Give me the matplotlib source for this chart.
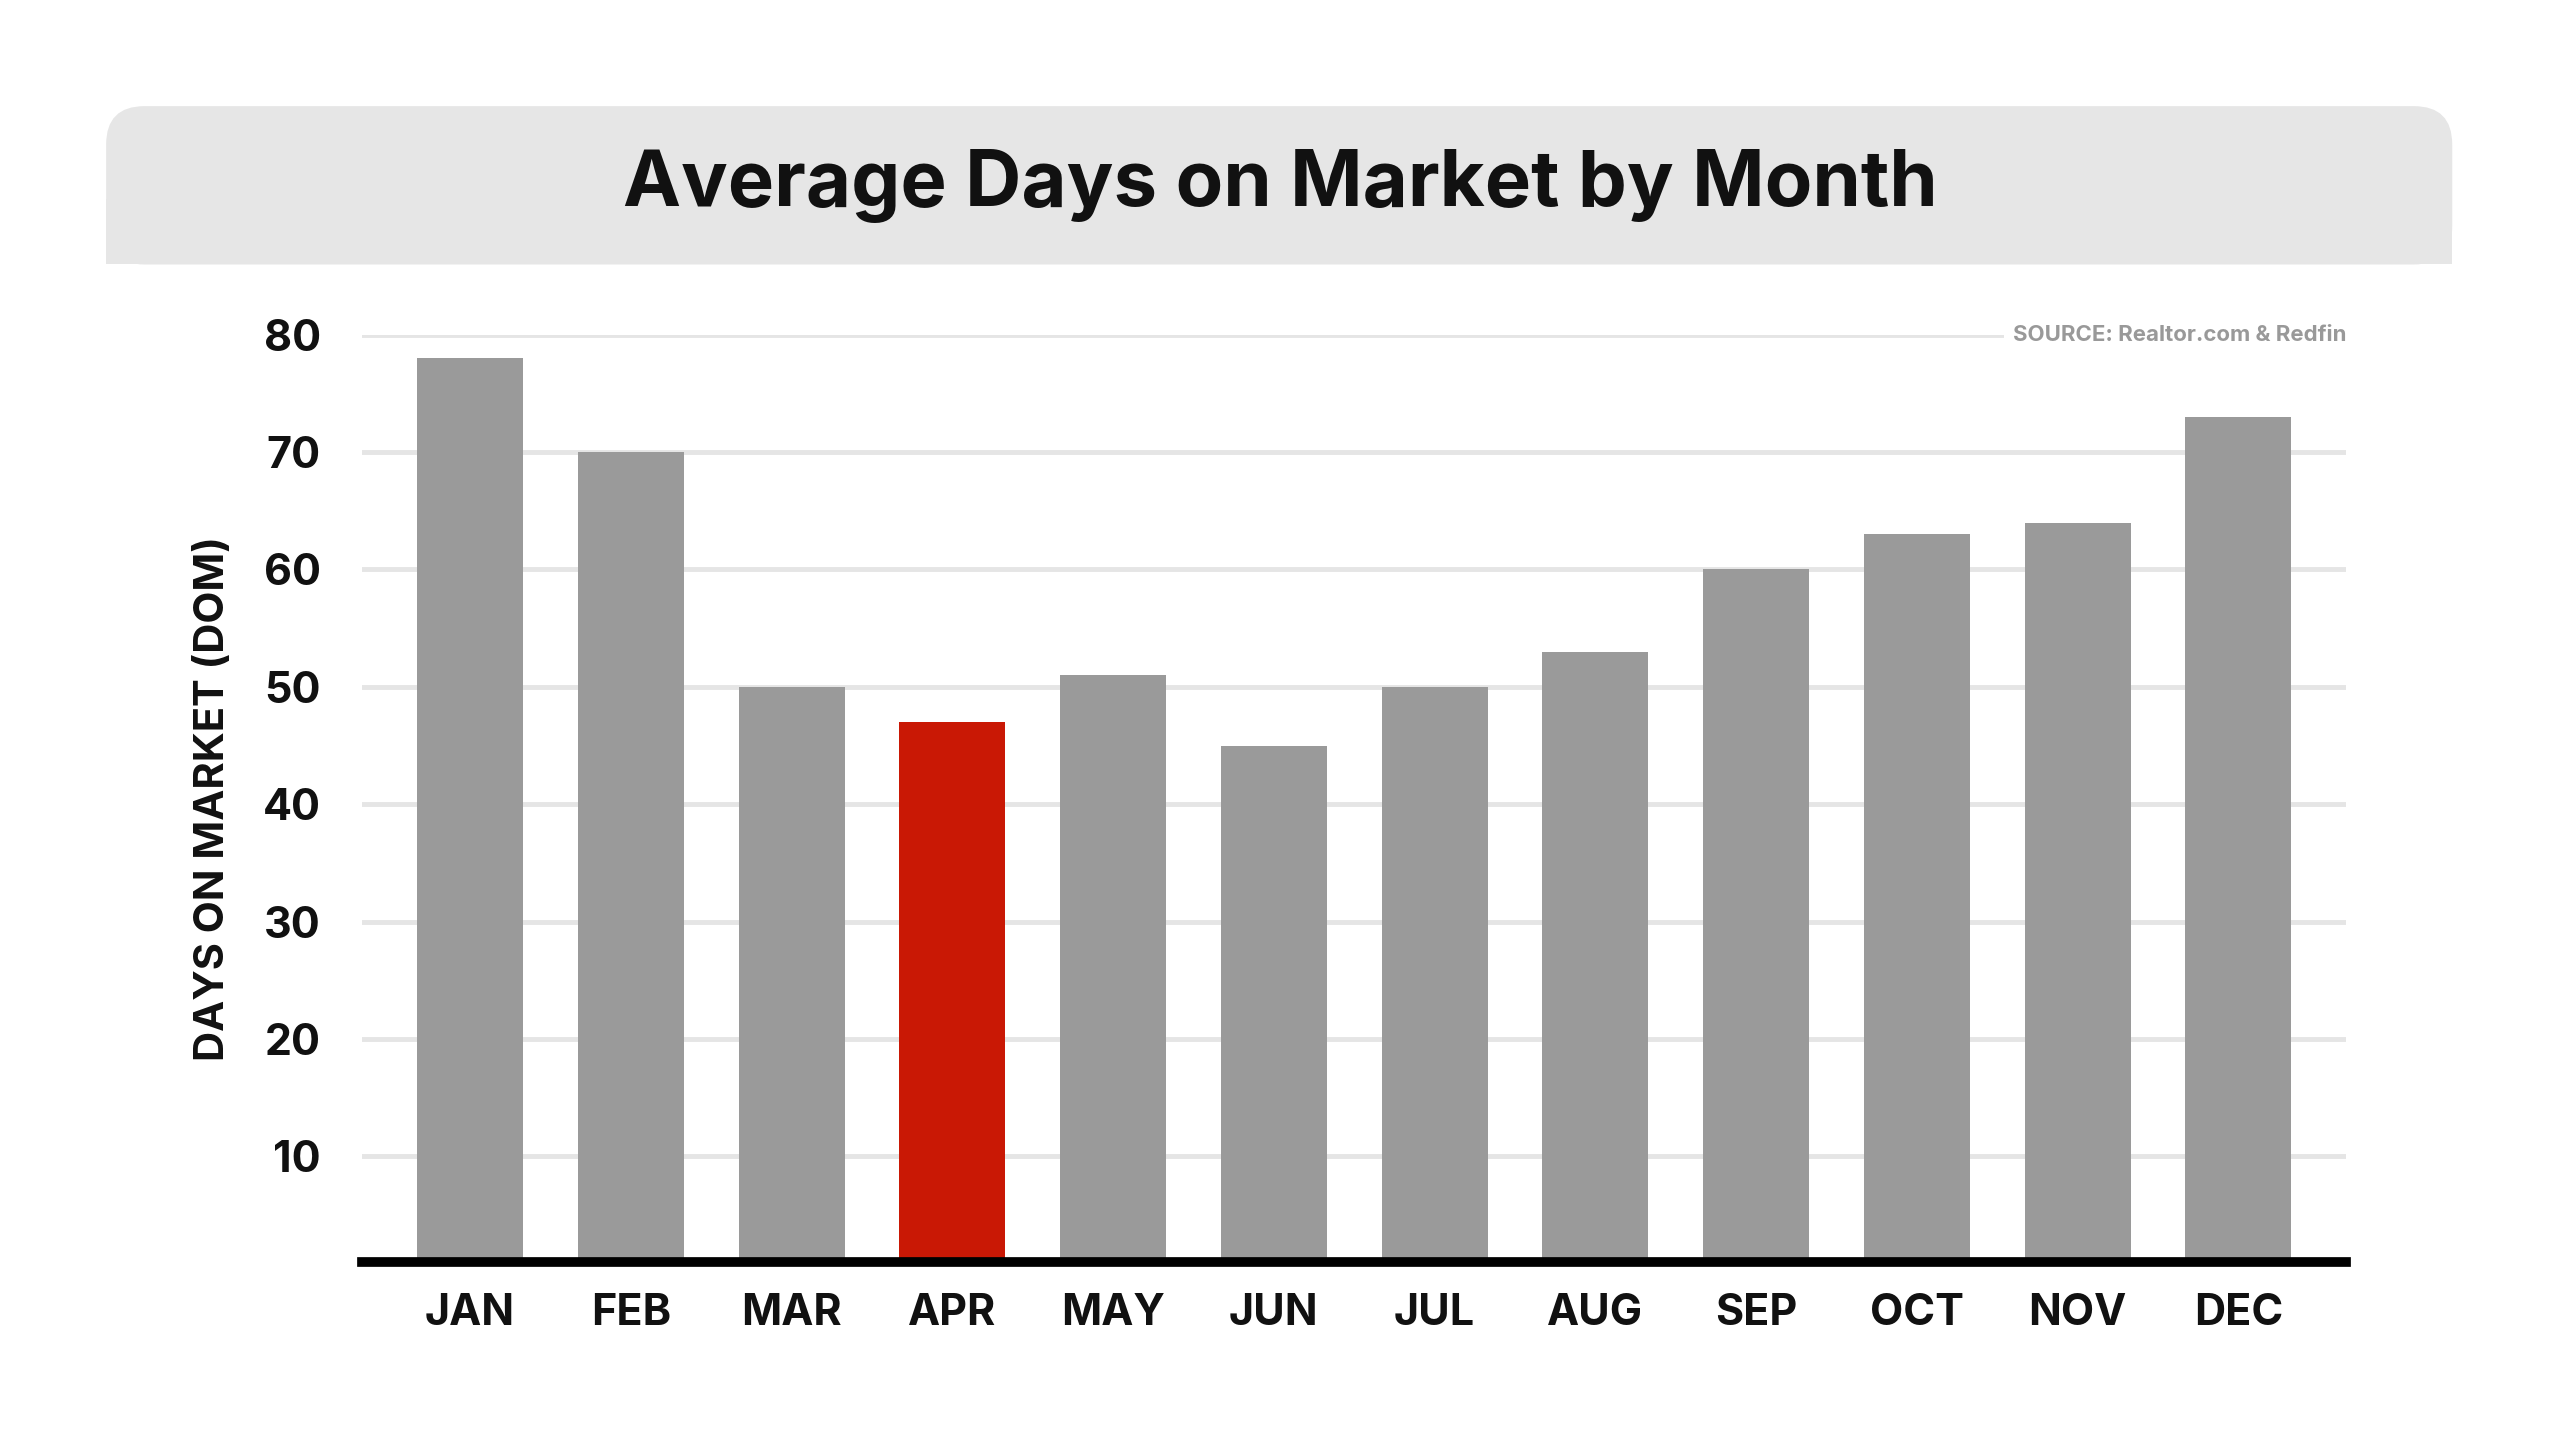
import matplotlib.pyplot as plt
from matplotlib.patches import FancyBboxPatch, Rectangle

plt.rcParams['font.family'] = ['Inter', 'DejaVu Sans']

months = ["JAN", "FEB", "MAR", "APR", "MAY", "JUN", "JUL", "AUG", "SEP", "OCT", "NOV", "DEC"]
days = [78, 70, 50, 47, 51, 45, 50, 53, 60, 63, 64, 73]
highlight = "APR"
yticks = [10, 20, 30, 40, 50, 60, 70, 80]

W, H = 1568, 882
fig = plt.figure(figsize=(25.6, 14.4), dpi=100)

# header band with rounded top corners
fig.patches.append(FancyBboxPatch((65 / W, 1 - 162 / H), (1502 - 65) / W, (162 - 65) / H,
                                  boxstyle="round,pad=0,rounding_size=0.015",
                                  transform=fig.transFigure, fc="#e6e6e6", ec="none",
                                  mutation_aspect=W / H))
fig.patches.append(Rectangle((65 / W, 1 - 162 / H), (1502 - 65) / W, 40 / H,
                             transform=fig.transFigure, fc="#e6e6e6", ec="none"))
fig.text(0.5, 1 - 114 / H, "Average Days on Market by Month", ha="center", va="center",
         fontsize=56, fontweight="bold", color="#111111")

ax = fig.add_axes([222 / W, 1 - 773 / H, (1437 - 222) / W, (773 - 205) / H])
colors = ["#c91805" if m == highlight else "#9a9a9a" for m in months]
x = range(len(months))
ax.bar(x, days, width=0.66, color=colors, zorder=3)
ax.set_xlim(-0.67, len(months) - 0.33)
ax.set_ylim(1, 80)
ax.set_yticks(yticks)
ax.set_xticks(list(x))
ax.set_xticklabels(months)
ax.yaxis.grid(True, color="#e5e5e5", linewidth=3.5, zorder=0)
ax.set_axisbelow(True)
for s in ["top", "right", "left"]:
    ax.spines[s].set_visible(False)
ax.spines["bottom"].set_linewidth(7)
ax.spines["bottom"].set_color("black")
ax.spines["bottom"].set_zorder(5)
ax.tick_params(axis="both", length=0, labelsize=31, colors="#111111")
ax.tick_params(axis="x", pad=22)
ax.tick_params(axis="y", pad=30)
for lab in ax.get_xticklabels() + ax.get_yticklabels():
    lab.set_fontweight("bold")
ax.set_ylabel("DAYS ON MARKET (DOM)", fontsize=30, fontweight="bold", labelpad=22, color="#111111")

ax.text(1.0, 80, "SOURCE: Realtor.com & Redfin", transform=ax.get_yaxis_transform(),
        ha="right", va="center", fontsize=16, fontweight="bold", color="#999999", zorder=6,
        bbox=dict(fc="white", ec="none", pad=6))

fig.savefig("out.png", dpi=100, facecolor="white")
